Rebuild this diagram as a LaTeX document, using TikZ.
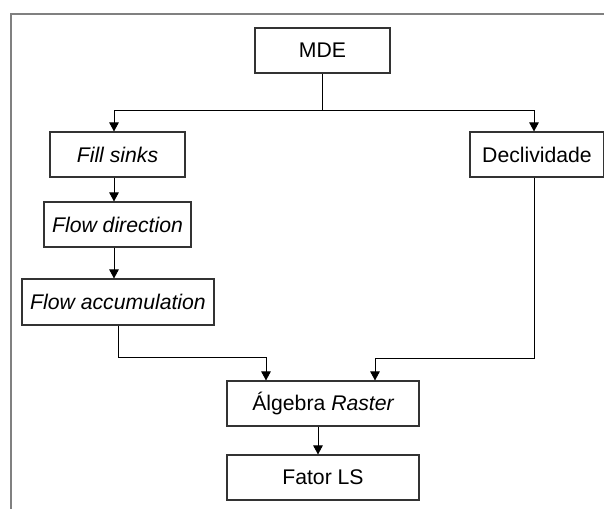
\documentclass[tikz,border=0pt]{standalone}
\usepackage{fontspec}
\setmainfont{Liberation Sans}
\usetikzlibrary{arrows.meta}
\begin{document}
\begin{tikzpicture}[x=1pt,y=-1pt,
  box/.style={draw=black!80,line width=1.1pt,fill=white,inner sep=0pt,
    font=\fontsize{21.2}{25}\selectfont},
  link/.style={draw=black,line width=0.9pt},
  arr/.style={link,-{Triangle[length=9pt,width=9.5pt]}},
  frameline/.style={draw=black!50,line width=1.1pt}]
  \useasboundingbox (0,0) rectangle (604,509);
  % open frame: top and left edges
  \draw[frameline] (604,14) -- (11,14) -- (11,509);

  % boxes given by their corners
  \node[box,minimum width=135pt,minimum height=45pt] (mde)  at (322.5,50.5) {MDE};
  \node[box,minimum width=135pt,minimum height=45pt] (fill) at (117.5,154.5) {\itshape Fill sinks};
  \node[box,minimum width=134pt,minimum height=45pt] (decl) at (537,154.5) {Declividade};
  \node[box,minimum width=147pt,minimum height=45pt] (fdir) at (117.5,224.5) {\itshape Flow direction};
  \node[box,minimum width=192pt,minimum height=46pt] (facc) at (118,302) {\itshape Flow accumulation};
  \node[box,minimum width=192pt,minimum height=45pt] (alg)  at (323,403.5) {Álgebra \itshape Raster};
  \node[box,minimum width=192pt,minimum height=45pt] (fls)  at (323,477.5) {Fator LS};

  % branching below MDE
  \coordinate (split) at (322,110);
  \draw[link] (mde.south -| split) -- (split);
  \draw[arr] (split) -| (fill.north -| 114,0);
  \draw[arr] (split) -| (decl.north -| 534,0);

  % left chain
  \draw[arr] (fill.south -| 114,0) -- (fdir.north -| 114,0);
  \draw[arr] (fdir.south -| 114,0) -- (facc.north -| 114,0);

  % merge into Algebra Raster
  \coordinate (accturn) at (118,357);
  \coordinate (declturn) at (534,358);
  \draw[arr] (facc.south -| accturn) -- (accturn) -| (alg.north -| 266,0);
  \draw[arr] (decl.south -| declturn) -- (declturn) -| (alg.north -| 375,0);

  % final step
  \draw[arr] (alg.south -| 318,0) -- (fls.north -| 318,0);
\end{tikzpicture}
\end{document}
